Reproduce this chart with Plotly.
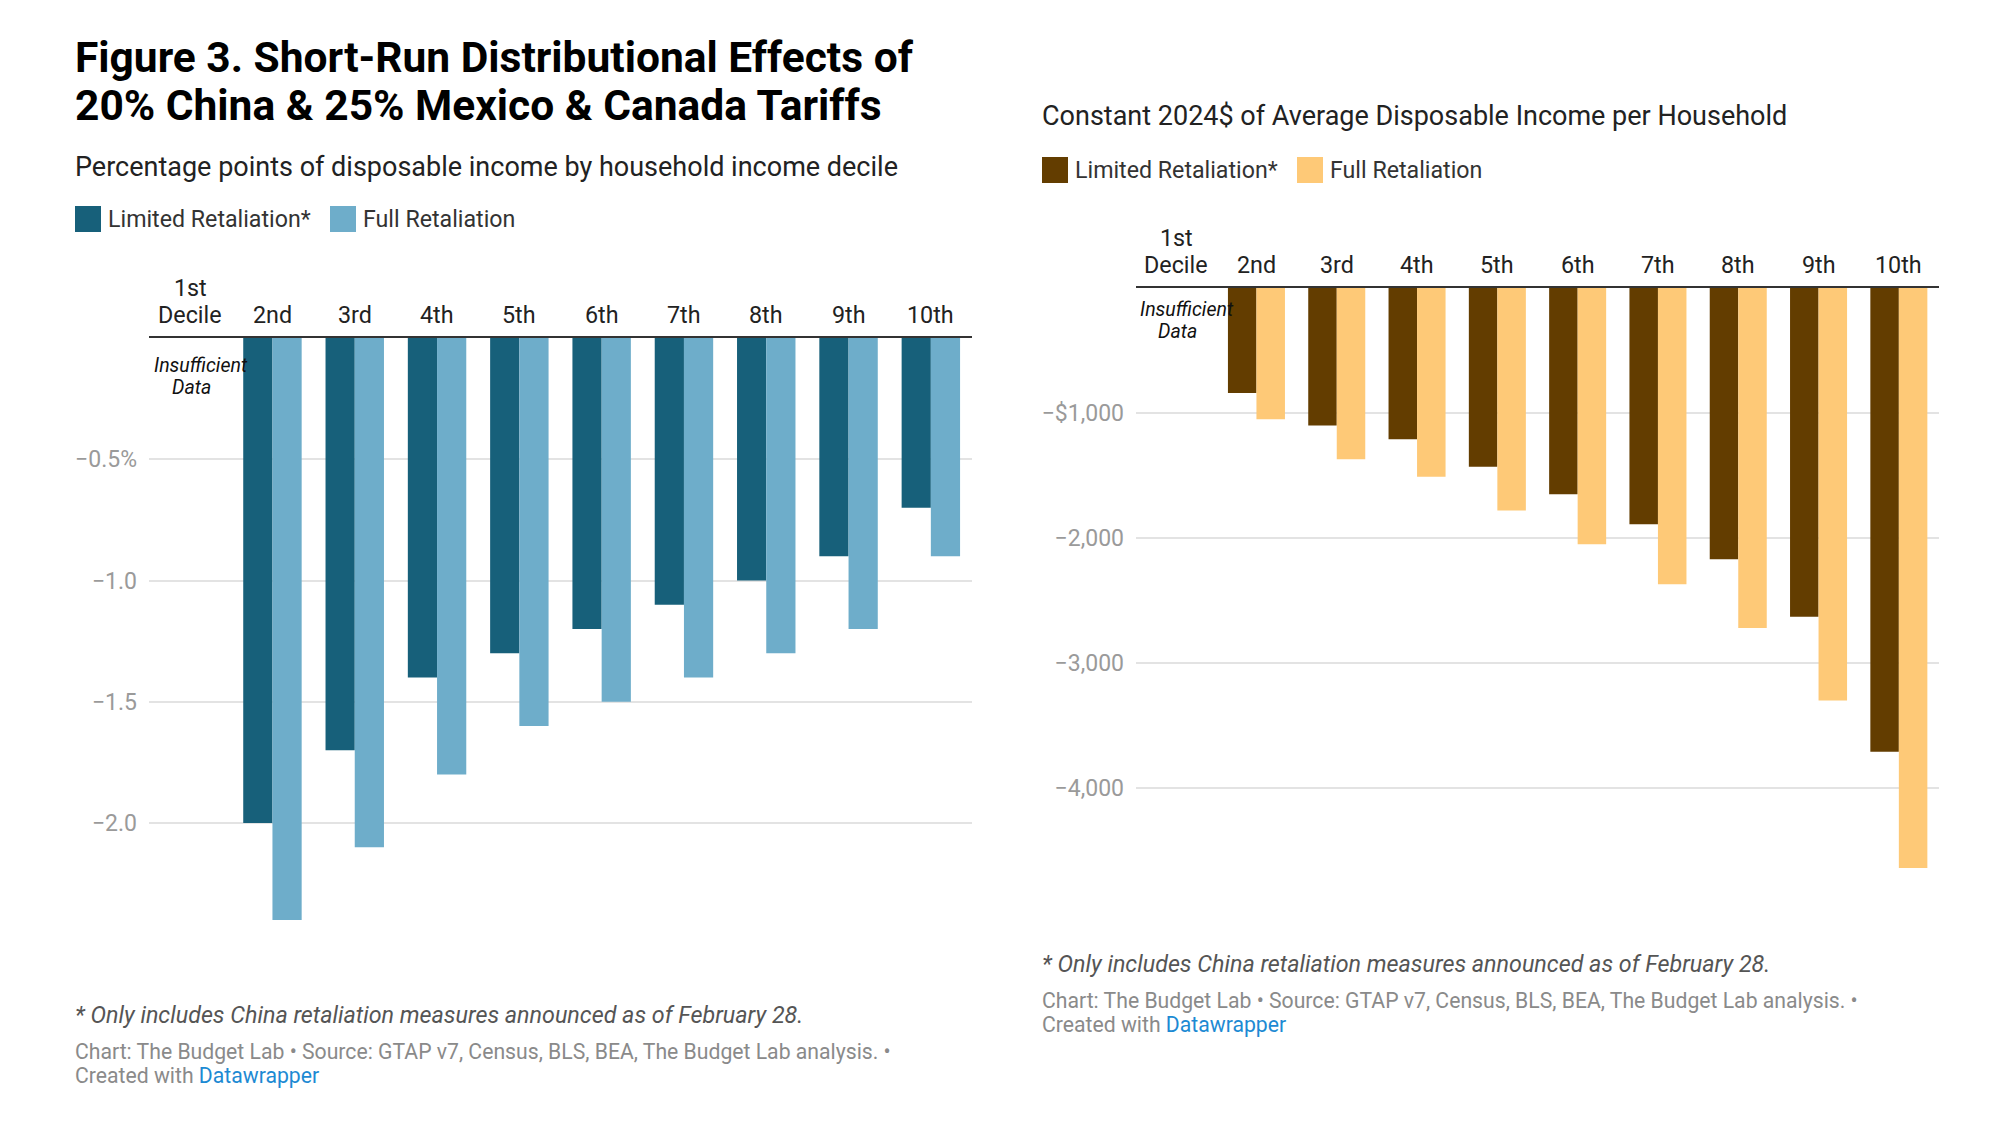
import plotly.graph_objects as go

W, H = 2000, 1131
PAGE_MARGIN = 8  # browser default body margin
FW, FH = W - 2 * PAGE_MARGIN, H - 2 * PAGE_MARGIN

# ---------------- data ----------------
deciles = ["1st", "2nd", "3rd", "4th", "5th", "6th", "7th", "8th", "9th", "10th"]
decile_labels = ["1st<br>Decile", "2nd", "3rd", "4th", "5th", "6th", "7th", "8th", "9th", "10th"]

pct_limited = [None, -2.0, -1.7, -1.4, -1.3, -1.2, -1.1, -1.0, -0.9, -0.7]
pct_full = [None, -2.4, -2.1, -1.8, -1.6, -1.5, -1.4, -1.3, -1.2, -0.9]

usd_limited = [None, -840, -1100, -1210, -1430, -1650, -1890, -2170, -2630, -3710]
usd_full = [None, -1050, -1370, -1510, -1780, -2050, -2370, -2720, -3300, -4640]

pct_ticks = [-0.5, -1.0, -1.5, -2.0]
pct_ticktext = ["\u22120.5%", "\u22121.0", "\u22121.5", "\u22122.0"]
usd_ticks = [-1000, -2000, -3000, -4000]
usd_ticktext = ["\u2212$1,000", "\u22122,000", "\u22123,000", "\u22124,000"]

series_names = ["Limited Retaliation*", "Full Retaliation"]
blue_colors = ["#17607a", "#6eadca"]
brown_colors = ["#633d00", "#fec977"]

FONT = "Roboto"


def px_x(p):
    return (p - PAGE_MARGIN) / FW


def px_y(p):
    return 1 - (p - PAGE_MARGIN) / FH


fig = go.Figure()

BAR_W = 0.355
for vals, name, col, off in [
    (pct_limited, series_names[0], blue_colors[0], -BAR_W),
    (pct_full, series_names[1], blue_colors[1], 0.0),
]:
    fig.add_trace(go.Bar(x=deciles, y=vals, name=name, marker_color=col,
                         marker_line_width=0, width=BAR_W, offset=off,
                         xaxis="x", yaxis="y", showlegend=False,
                         hovertemplate="%{x}: %{y:.1f}%<extra>" + name + "</extra>"))

for vals, name, col, off in [
    (usd_limited, series_names[0], brown_colors[0], -BAR_W),
    (usd_full, series_names[1], brown_colors[1], 0.0),
]:
    fig.add_trace(go.Bar(x=deciles, y=vals, name=name, marker_color=col,
                         marker_line_width=0, width=BAR_W, offset=off,
                         xaxis="x2", yaxis="y2", showlegend=False,
                         hovertemplate="%{x}: $%{y:,.0f}<extra>" + name + "</extra>"))

axis_common_x = dict(type="category", categoryorder="array", categoryarray=deciles,
                     range=[-0.5, len(deciles) - 0.5],
                     showticklabels=False, showgrid=False, zeroline=False,
                     showline=True, linecolor="#333333", linewidth=2, side="top",
                     ticks="", fixedrange=True)
axis_common_y = dict(showgrid=True, gridcolor="#e3e3e3", gridwidth=1.5,
                     zeroline=False, showline=False, ticks="",
                     tickfont=dict(family=FONT, size=23, color="#9a9a9a"),
                     ticklabelstandoff=11, fixedrange=True)

# plot areas in page pixels
L_x0, L_x1, L_y0, L_y1 = 149, 972, 338, 920
R_x0, R_x1, R_y0, R_y1 = 1136, 1939, 288, 868

fig.update_layout(
    width=FW, height=FH,
    margin=dict(l=0, r=0, t=0, b=0),
    paper_bgcolor="white", plot_bgcolor="white",
    barmode="overlay",
    xaxis=dict(domain=[px_x(L_x0), px_x(L_x1)], anchor="y", **axis_common_x),
    yaxis=dict(domain=[px_y(L_y1), px_y(L_y0)], anchor="x",
               range=[min(v for v in pct_full if v is not None), 0],
               tickvals=pct_ticks, ticktext=pct_ticktext, **axis_common_y),
    xaxis2=dict(domain=[px_x(R_x0), px_x(R_x1)], anchor="y2", **axis_common_x),
    yaxis2=dict(domain=[px_y(R_y1), px_y(R_y0)], anchor="x2",
                range=[min(v for v in usd_full if v is not None), 0],
                tickvals=usd_ticks, ticktext=usd_ticktext, **axis_common_y),
    font=dict(family=FONT),
)

ann = []
shapes = []


def text(x, y, t, size, color="#222222", bold=False, italic=False, xanchor="left"):
    if bold:
        t = "<b>" + t + "</b>"
    if italic:
        t = "<i>" + t + "</i>"
    ann.append(dict(x=px_x(x - 2), y=px_y(y), xref="paper", yref="paper", text=t,
                    showarrow=False, xanchor=xanchor, yanchor="middle", align="left",
                    font=dict(family=FONT, size=size, color=color)))


# Title (two lines)
text(75, 57, "Figure 3. Short-Run Distributional Effects of", 42.5, color="#000000", bold=True)
text(75, 106, "20% China &amp; 25% Mexico &amp; Canada Tariffs", 42.5, color="#000000", bold=True)
# Subtitles
text(75, 167, "Percentage points of disposable income by household income decile", 27, color="#222222")
text(1042, 116, "Constant 2024$ of Average Disposable Income per Household", 27, color="#222222")


def legend(x0, yc, colors, gap_after_first):
    xs = [x0, x0 + gap_after_first]
    for xx, c, nm in zip(xs, colors, series_names):
        shapes.append(dict(type="rect", xref="paper", yref="paper",
                           x0=px_x(xx), x1=px_x(xx + 26), y0=px_y(yc + 13), y1=px_y(yc - 13),
                           fillcolor=c, line=dict(width=0)))
        text(xx + 33, yc, nm, 23.2, color="#333333")


legend(75, 219, blue_colors, 255)
legend(1042, 170, brown_colors, 255)

# Category labels above each panel and the "Insufficient Data" note
for xa, top, note_offsets in [("x", L_y0, (27, 49)), ("x2", R_y0, (21, 44))]:
    for i, lab in enumerate(decile_labels):
        lines = lab.split("<br>")
        for k, line in enumerate(reversed(lines)):
            ann.append(dict(x=deciles[i], y=px_y(top - 23 - 27 * k), xref=xa, yref="paper",
                            text=line, showarrow=False, xanchor="center", yanchor="middle",
                            font=dict(family=FONT, size=23.3, color="#222222")))
    ann.append(dict(x=deciles[0], y=px_y(top + note_offsets[0]), xref=xa, yref="paper",
                    text="<i>Insufficient</i>", showarrow=False,
                    xanchor="left", yanchor="middle", xshift=-38,
                    font=dict(family=FONT, size=19.5, color="#111111")))
    ann.append(dict(x=deciles[0], y=px_y(top + note_offsets[1]), xref=xa, yref="paper",
                    text="<i>Data</i>", showarrow=False,
                    xanchor="center", yanchor="middle", xshift=1,
                    font=dict(family=FONT, size=19.5, color="#111111")))

# Footnotes
for x0, y_note, y_src in [(75, 1015, 1051), (1042, 964, 1000)]:
    text(x0, y_note, "* Only includes China retaliation measures announced as of February 28.",
         23.3, color="#555555", italic=True)
    text(x0, y_src,
         "Chart: The Budget Lab \u2022 Source: GTAP v7, Census, BLS, BEA, The Budget Lab analysis. \u2022",
         21.2, color="#8a8a8a")
    text(x0, y_src + 24, "Created with <span style='color:#1d8ad3'>Datawrapper</span>",
         21.2, color="#8a8a8a")

fig.update_layout(annotations=ann, shapes=shapes)

fig.write_html("out.html")
